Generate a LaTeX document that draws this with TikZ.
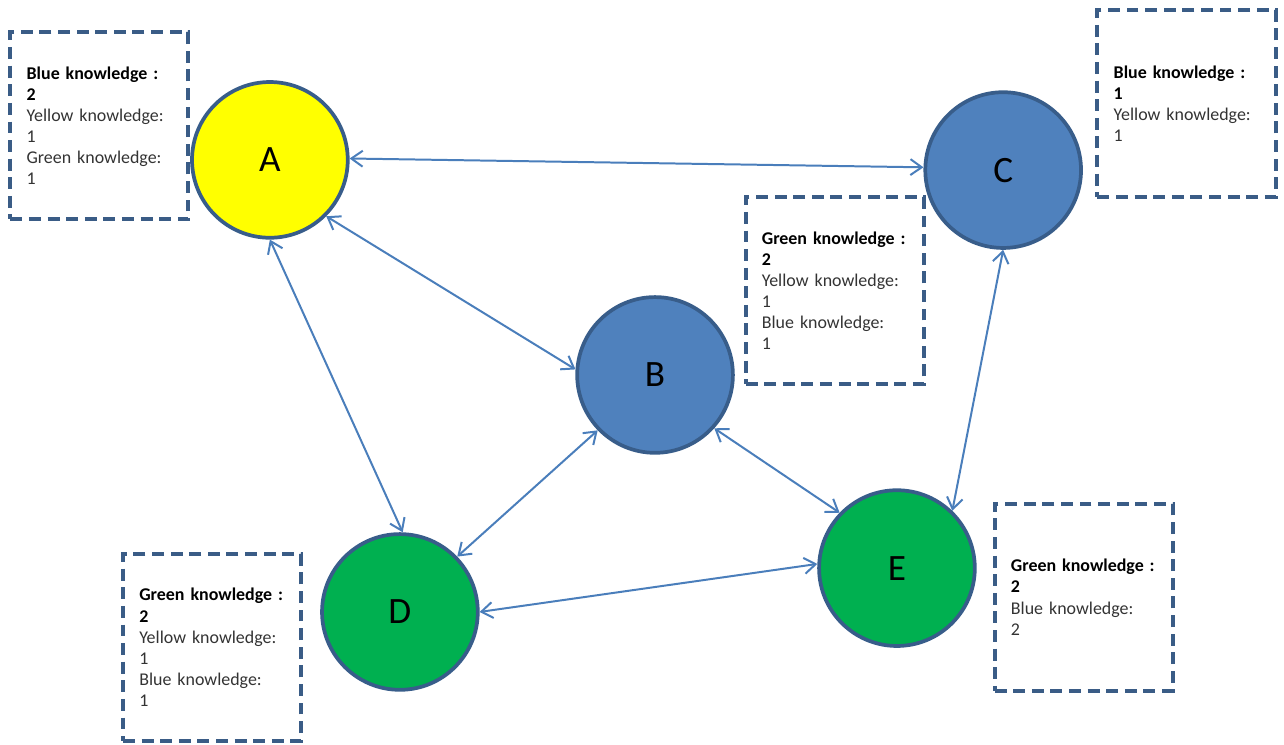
\documentclass[tikz,border=0pt]{standalone}
\usepackage{fontspec}
\setmainfont{Carlito}
\usepackage{tikz}
\usetikzlibrary{arrows.meta, positioning}
\usepackage{xcolor}
\definecolor{edgeblue}{HTML}{385D8A}
\definecolor{boxblue}{HTML}{3A5C86}
\definecolor{linkblue}{HTML}{4A7EBB}
\definecolor{fillblue}{HTML}{4F81BD}
\definecolor{fillgreen}{HTML}{00B050}
\definecolor{fillyellow}{HTML}{FFFF00}
\newcommand{\hd}[1]{{\color{black}\bfseries #1}}
\tikzset{
  agent/.style  ={draw=edgeblue, circle, minimum size=4.12cm, inner sep=0pt,
                  line width=2.8pt, font=\fontsize{28}{33}\selectfont},
  infobox/.style={draw=boxblue, line width=3pt, dash pattern=on 9pt off 5pt,
                  minimum height=4.95cm, text width=3.85cm, inner xsep=0.43cm,
                  align=left, font=\fontsize{13.5}{15.9}\selectfont, text=black!80},
  link/.style   ={{Straight Barb[length=3mm,width=4.2mm]}-{Straight Barb[length=3mm,width=4.2mm]},
                  line width=1.5pt, linkblue},
}

\begin{document}
\begin{tikzpicture}
  \useasboundingbox (0,0) rectangle (33.97,-19.69);
  % agents
  \node[agent, fill=fillyellow] (A) at (7.14,-4.23)   {A};
  \node[agent, fill=fillblue]   (B) at (17.33,-9.92)  {B};
  \node[agent, fill=fillblue]   (C) at (26.54,-4.50)  {C};
  \node[agent, fill=fillgreen]  (D) at (10.58,-16.19) {D};
  \node[agent, fill=fillgreen]  (E) at (23.73,-15.03) {E};
  % links
  \draw[link] (A.1)    -- (C.178);
  \draw[link] (A.-45)  -- (B.176);
  \draw[link] (A.-90)  -- (D.88);
  \draw[link] (B.-136) -- (D.44);
  \draw[link] (B.-42)  -- (E.136);
  \draw[link] (C.-90)  -- (E.46);
  \draw[link] (D.0)    -- (E.177);
  % knowledge boxes
  \node[infobox] (infoA) at (2.63,-3.33)
    {\hd{Blue knowledge :}\\ \hd{2}\\ Yellow knowledge:\\ 1\\ Green knowledge:\\ 1};
  \node[infobox] (infoC) at (31.39,-2.74)
    {\hd{Blue knowledge :}\\ \hd{1}\\ Yellow knowledge:\\ 1};
  \node[infobox] (infoB) at (22.08,-7.69)
    {\hd{Green knowledge :}\\ \hd{2}\\ Yellow knowledge:\\ 1\\ Blue knowledge:\\ 1};
  \node[infobox] (infoD) at (5.61,-17.13)
    {\hd{Green knowledge :}\\ \hd{2}\\ Yellow knowledge:\\ 1\\ Blue knowledge:\\ 1};
  \node[infobox] (infoE) at (28.67,-15.80)
    {\hd{Green knowledge :}\\ \hd{2}\\ Blue knowledge:\\ 2};
\end{tikzpicture}
\end{document}
